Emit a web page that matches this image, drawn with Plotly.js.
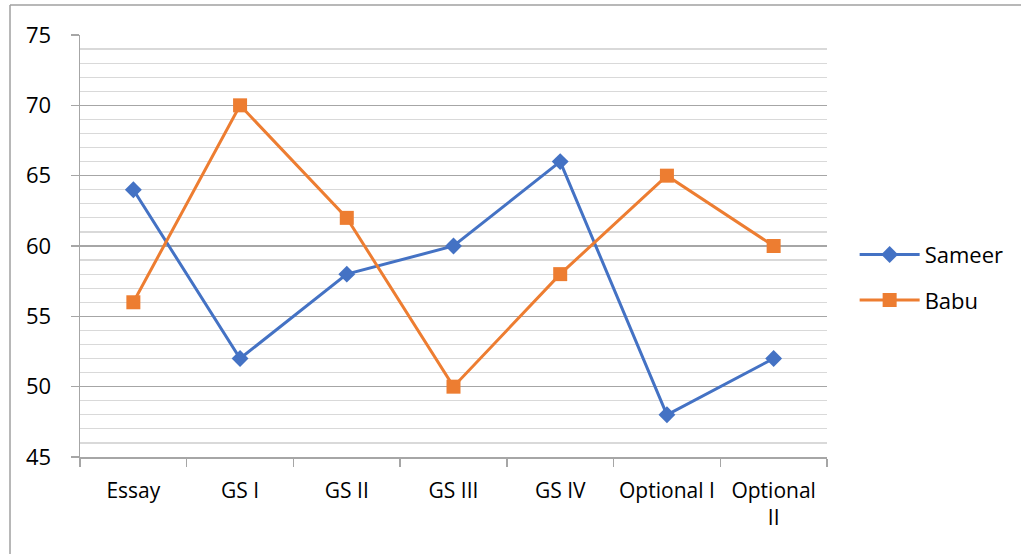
<!DOCTYPE html>
<html>
<head>
<meta charset="utf-8">
<script src="https://cdn.plot.ly/plotly-3.0.1.min.js"></script>
<style>html,body{margin:0;padding:0;background:#fff;}#chart{width:1021px;height:554px;}</style>
</head>
<body>
<div id="chart"></div>
<script>
const categories = ["Essay", "GS I", "GS II", "GS III", "GS IV", "Optional I", "Optional<br>II"];
const sameer = [64, 52, 58, 60, 66, 48, 52];
const babu = [56, 70, 62, 50, 58, 65, 60];
const seriesNames = ["Sameer", "Babu"];

const FONT = "Open Sans, Noto Sans, sans-serif";
const data = [
  {x: categories, y: sameer, name: seriesNames[0], type: "scatter", mode: "lines+markers",
   line: {color: "#4472C4", width: 3}, marker: {symbol: "diamond", size: 13, color: "#4472C4"},
   legendgroup: "a"},
  {x: categories, y: babu, name: seriesNames[1], type: "scatter", mode: "lines+markers",
   line: {color: "#ED7D31", width: 3}, marker: {symbol: "square", size: 14, color: "#ED7D31"},
   legendgroup: "b"}
];
const layout = {
  width: 1021, height: 554,
  margin: {l: 80, r: 194, t: 35, b: 97},
  paper_bgcolor: "#ffffff", plot_bgcolor: "#ffffff",
  font: {family: FONT, size: 21, color: "#000"},
  showlegend: true,
  legend: {x: 1.037, y: 0.425, xanchor: "left", yanchor: "middle", tracegroupgap: 14,
           font: {family: FONT, size: 22, color: "#000"}, itemwidth: 60},
  xaxis: {type: "category", tickson: "boundaries", ticks: "outside", ticklen: 8,
          tickcolor: "#a6a6a6", tickwidth: 1.5, showline: true, linecolor: "#a6a6a6", linewidth: 1.5,
          showgrid: false, zeroline: false, range: [-0.5, 6.5], fixedrange: true,
          tickfont: {family: FONT, size: 21, color: "#000"},
          ticklabelstandoff: 14},
  yaxis: {range: [45, 75], dtick: 5, tick0: 45, ticks: "outside", ticklen: 8,
          tickcolor: "#a6a6a6", tickwidth: 1.5, showline: true, linecolor: "#a6a6a6", linewidth: 1.5,
          showgrid: true, gridcolor: "#a6a6a6", gridwidth: 1.2, zeroline: false,
          tickfont: {family: FONT, size: 22, color: "#000"},
          ticklabelstandoff: 15,
          minor: {dtick: 1, showgrid: true, gridcolor: "#d9d9d9", gridwidth: 1.2, ticks: ""}},
  shapes: [
    {type: "line", xref: "paper", yref: "paper", x0: -0.0937, x1: 1.3, y0: 1.0711, y1: 1.0711,
     line: {color: "#a0a0a0", width: 1.5}},
    {type: "line", xref: "paper", yref: "paper", x0: -0.0937, x1: -0.0937, y0: 1.0711, y1: -0.3,
     line: {color: "#a0a0a0", width: 1.5}}
  ]
};
Plotly.newPlot("chart", data, layout, {displayModeBar: false, staticPlot: true});
</script>
</body>
</html>
